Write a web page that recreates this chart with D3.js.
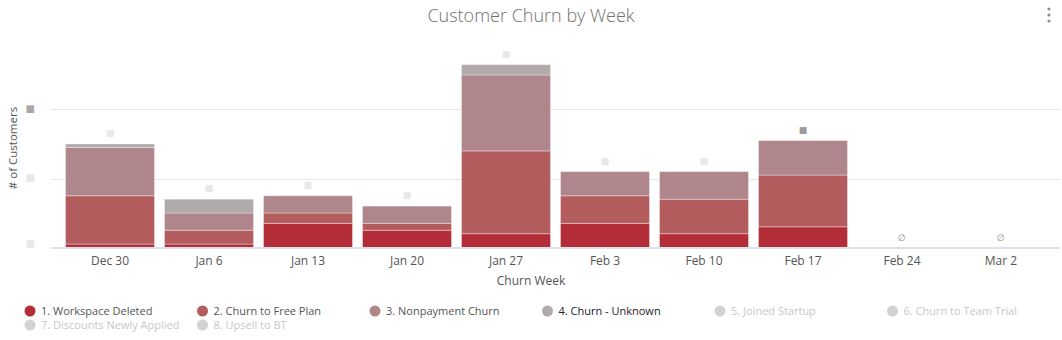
<!DOCTYPE html>
<html><head><meta charset="utf-8">
<script src="https://cdn.jsdelivr.net/npm/d3@7"></script>
<style>body{margin:0;background:#fff;}svg{display:block;font-family:"Open Sans",sans-serif;}</style>
</head><body><svg id="c" width="1062" height="340"></svg>
<script>
const weeks = ["Dec 30","Jan 6","Jan 13","Jan 20","Jan 27","Feb 3","Feb 10","Feb 17","Feb 24","Mar 2"];
const workspaceDeleted = [1,1,7,5,4,7,4,6,0,0];
const churnToFreePlan = [14,4,3,2,24,8,10,15,0,0];
const nonpaymentChurn = [14,5,5,5,22,7,8,10,0,0];
const churnUnknown = [1,4,0,0,3,0,0,0,0,0];
const yTicks = [0,20,40];
const seriesNames = ["1. Workspace Deleted","2. Churn to Free Plan","3. Nonpayment Churn","4. Churn - Unknown","5. Joined Startup","6. Churn to Team Trial","7. Discounts Newly Applied","8. Upsell to BT"];

const svg = d3.select("#c");
const colors = ["#b22d37","#b35c5e","#b0868d","#b0aaaa"];
const stackVals = [workspaceDeleted, churnToFreePlan, nonpaymentChurn, churnUnknown];
const rows = weeks.map((w,i)=>({week:w, s0:stackVals[0][i], s1:stackVals[1][i], s2:stackVals[2][i], s3:stackVals[3][i]}));
const stack = d3.stack().keys(["s0","s1","s2","s3"])(rows);
const totals = rows.map(r=>r.s0+r.s1+r.s2+r.s3);

const x = d3.scaleBand().domain(weeks).range([60.5,1050.5]).paddingInner(0.101).paddingOuter(0.0505);
const y = d3.scaleLinear().domain([0,58]).range([247.5,47.4]);

// title
svg.append("text").attr("x",531).attr("y",22).attr("text-anchor","middle")
  .attr("font-size",18).attr("font-weight",300).attr("fill","#707070").text("Customer Churn by Week");
// menu dots
[9,15,21].forEach(cy=>svg.append("circle").attr("cx",1049).attr("cy",cy).attr("r",1.6).attr("fill","#8a8f99"));

// gridlines
svg.append("g").selectAll("line").data(yTicks.filter(t=>t>0)).join("line")
  .attr("x1",51).attr("x2",1060).attr("y1",d=>Math.round(y(d))+0.5).attr("y2",d=>Math.round(y(d))+0.5)
  .attr("stroke","#e6e6e6");

// y tick labels (redacted in reference)
const yAxis = svg.append("g").attr("transform","translate(38,0)")
  .call(d3.axisLeft(y).tickValues(yTicks).tickSize(0).tickFormat(()=>"\u25A0"));
yAxis.select(".domain").remove();
yAxis.selectAll("text").attr("font-size",10).attr("font-family","DejaVu Sans")
  .attr("fill",(d,i)=>i===yTicks.length-1?"#a8a8a8":"#e8e8e8").attr("dy",(d,i)=>i===0?"-0.15em":"0.15em");

svg.append("text").attr("transform","translate(17,148) rotate(-90)").attr("text-anchor","middle")
  .attr("font-size",11.5).attr("fill","#555").text("# of Customers");

// bars
svg.append("g").selectAll("g").data(stack).join("g").attr("fill",(d,i)=>colors[i])
  .selectAll("rect").data(d=>d.filter(p=>p[1]-p[0]>0)).join("rect")
  .attr("x",d=>x(d.data.week)).attr("width",x.bandwidth())
  .attr("y",d=>y(d[1])).attr("height",d=>y(d[0])-y(d[1]))
  .attr("stroke","#ffffff").attr("stroke-opacity",0.35).attr("stroke-width",1);

// baseline
svg.append("line").attr("x1",51).attr("x2",1060).attr("y1",248).attr("y2",248).attr("stroke","#dde1ee").attr("stroke-width",2);

// total labels (redacted in reference)
svg.append("g").selectAll("text").data(rows).join("text")
  .attr("x",d=>x(d.week)+x.bandwidth()/2).attr("y",(d,i)=>totals[i]>0?y(totals[i])-8:241)
  .attr("text-anchor","middle")
  .attr("font-family","DejaVu Sans")
  .attr("font-size",(d,i)=>totals[i]>0?9:9)
  .attr("fill",(d,i)=>totals[i]===0?"#8c8c8c":(i===7?"#9a9a9a":"#e8e8e8"))
  .text((d,i)=>totals[i]>0?"\u25A0":"\u2205");

// x axis labels
const xAxis = svg.append("g").attr("transform","translate(0,253)")
  .call(d3.axisBottom(x).tickSize(0));
xAxis.select(".domain").remove();
xAxis.selectAll("text").attr("font-size",12).attr("fill","#555").attr("font-family","Open Sans");
svg.append("text").attr("x",531).attr("y",285).attr("text-anchor","middle").attr("font-size",12).attr("fill","#555").text("Churn Week");

// legend
const legColors = ["#b22d37","#b35c5e","#b0868d","#b0aaaa","#d2d2d2","#d2d2d2","#d2d2d2","#d2d2d2"];
const legText = ["#555","#555","#555","#222","#c8c8c8","#c8c8c8","#c8c8c8","#c8c8c8"];
const lg = svg.append("g").selectAll("g").data(seriesNames).join("g")
  .attr("transform",(d,i)=>`translate(${30+(i%6)*172.5},${311+Math.floor(i/6)*14})`);
lg.append("circle").attr("r",5.5).attr("fill",(d,i)=>legColors[i]);
lg.append("text").attr("x",11).attr("dy","0.35em").attr("font-size",11)
  .attr("fill",(d,i)=>legText[i]).text(d=>d);
</script></body></html>
